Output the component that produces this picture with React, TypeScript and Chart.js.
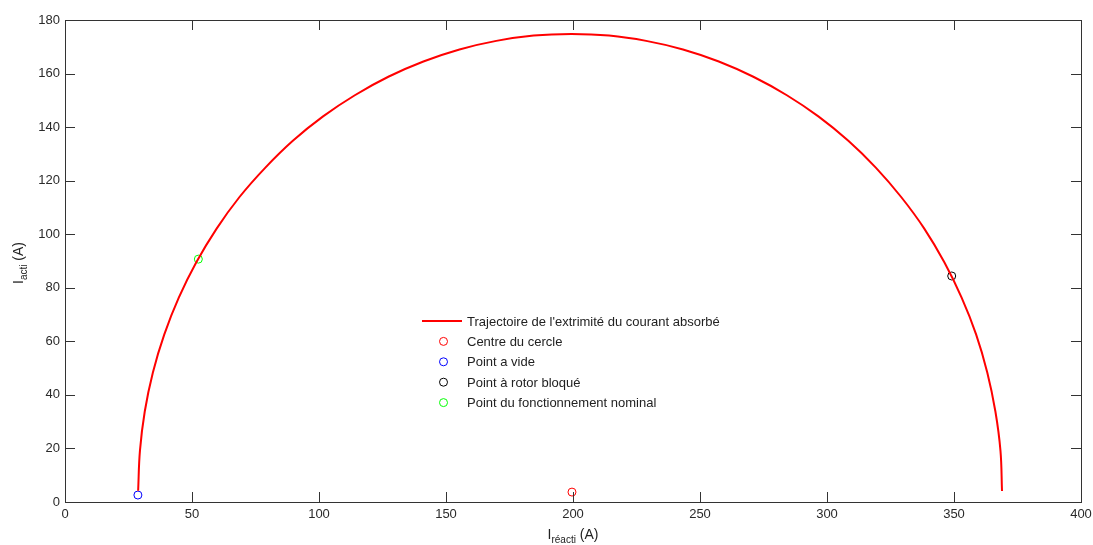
import React, { useEffect, useRef } from "react";
import { Chart, registerables } from "chart.js";

Chart.register(...registerables);

// Curve points (trajectory of the current tip)
const curveX = [28.8, 29.5, 31.4, 34.6, 39.1, 44.8, 51.7, 59.7, 68.7, 78.8, 89.7, 101.6, 114.1, 127.3, 141.1, 155.3, 169.8, 184.5, 199.4, 214.2, 228.8, 243.3, 257.4, 271.0, 284.2, 296.6, 308.4, 319.3, 329.2, 338.3, 346.2, 353.0, 358.7, 363.1, 366.3, 368.3, 368.9];
const curveY = [4.2, 19.1, 33.8, 48.4, 62.6, 76.3, 89.5, 102.1, 113.9, 124.8, 134.9, 144.0, 151.9, 158.8, 164.5, 169.0, 172.2, 174.2, 174.8, 174.2, 172.2, 169.0, 164.5, 158.8, 151.9, 144.0, 134.9, 124.8, 113.9, 102.1, 89.5, 76.3, 62.6, 48.4, 33.8, 19.1, 4.1];

const centre = { x: 199.6, y: 3.7 };
const pointVide = { x: 28.7, y: 2.6 };
const pointRotor = { x: 349.1, y: 84.4 };
const pointNominal = { x: 52.5, y: 90.7 };

const legendLabels = [
  "Trajectoire de l'extrimité du courant absorbé",
  "Centre du cercle",
  "Point a vide",
  "Point à rotor bloqué",
  "Point du fonctionnement nominal",
];
const legendColors = ["#ff0000", "#ff0000", "#0000ff", "#000000", "#00ff00"];

const xTicks = [0, 50, 100, 150, 200, 250, 300, 350, 400];
const yTicks = [0, 20, 40, 60, 80, 100, 120, 140, 160, 180];

const FONT = "'Liberation Sans', Arial, sans-serif";

const decorPlugin = {
  id: "decor",
  afterDraw(chart: any) {
    const ctx = chart.ctx as CanvasRenderingContext2D;
    const { left, right, top, bottom } = chart.chartArea;
    const xs = chart.scales.x;
    const ys = chart.scales.y;
    ctx.save();
    ctx.strokeStyle = "#333333";
    ctx.lineWidth = 1;
    // box
    ctx.strokeRect(Math.round(left) + 0.5, Math.round(top) + 0.5, Math.round(right - left), Math.round(bottom - top));
    // ticks
    ctx.beginPath();
    for (const v of xTicks) {
      const px = Math.round(xs.getPixelForValue(v)) + 0.5;
      ctx.moveTo(px, bottom);
      ctx.lineTo(px, bottom - 10);
      ctx.moveTo(px, top);
      ctx.lineTo(px, top + 10);
    }
    for (const v of yTicks) {
      const py = Math.round(ys.getPixelForValue(v)) + 0.5;
      ctx.moveTo(left, py);
      ctx.lineTo(left + 10, py);
      ctx.moveTo(right, py);
      ctx.lineTo(right - 10, py);
    }
    ctx.stroke();

    // legend
    const lx = 422;
    let ly = 321;
    ctx.textBaseline = "middle";
    ctx.textAlign = "left";
    ctx.font = `13px ${FONT}`;
    legendLabels.forEach((lab, i) => {
      if (i === 0) {
        ctx.strokeStyle = legendColors[i];
        ctx.lineWidth = 2;
        ctx.beginPath();
        ctx.moveTo(lx, ly);
        ctx.lineTo(lx + 40, ly);
        ctx.stroke();
      } else {
        ctx.strokeStyle = legendColors[i];
        ctx.lineWidth = 1;
        ctx.beginPath();
        ctx.arc(443.5, ly, 4, 0, Math.PI * 2);
        ctx.stroke();
      }
      ctx.fillStyle = "#222222";
      ctx.fillText(lab, 467, ly + 1);
      ly += 20.4;
    });

    // axis titles with subscripts
    const drawSub = (main: string, sub: string, tail: string, cx: number, cy: number, rot: number) => {
      ctx.save();
      ctx.translate(cx, cy);
      ctx.rotate(rot);
      ctx.fillStyle = "#222222";
      ctx.textBaseline = "alphabetic";
      ctx.textAlign = "left";
      ctx.font = `14px ${FONT}`;
      const w1 = ctx.measureText(main).width;
      const w3 = ctx.measureText(tail).width;
      ctx.font = `10px ${FONT}`;
      const w2 = ctx.measureText(sub).width;
      const total = w1 + w2 + w3;
      let x = -total / 2;
      ctx.font = `14px ${FONT}`;
      ctx.fillText(main, x, 0);
      x += w1;
      ctx.font = `10px ${FONT}`;
      ctx.fillText(sub, x, 4);
      x += w2;
      ctx.font = `14px ${FONT}`;
      ctx.fillText(tail, x, 0);
      ctx.restore();
    };
    drawSub("I", "réacti", " (A)", (left + right) / 2, 539, 0);
    drawSub("I", "acti", " (A)", 23, (top + bottom) / 2 + 2, -Math.PI / 2);
    ctx.restore();
  },
};

export default function App() {
  const ref = useRef<HTMLCanvasElement | null>(null);
  useEffect(() => {
    if (!ref.current) return;
    const marker = (pt: { x: number; y: number }, color: string) => ({
      data: [pt],
      showLine: false,
      pointStyle: "circle",
      pointRadius: 4,
      pointBorderWidth: 1,
      pointBorderColor: color,
      pointBackgroundColor: "rgba(0,0,0,0)",
    });
    const chart = new Chart(ref.current, {
      type: "scatter",
      data: {
        datasets: [
          {
            data: curveX.map((x, i) => ({ x, y: curveY[i] })),
            showLine: true,
            borderColor: "#ff0000",
            borderWidth: 2,
            pointRadius: 0,
            tension: 0.4,
          } as any,
          marker(centre, "#ff0000"),
          marker(pointVide, "#0000ff"),
          marker(pointRotor, "#000000"),
          marker(pointNominal, "#00ff00"),
        ],
      },
      options: {
        animation: false,
        responsive: false,
        maintainAspectRatio: false,
        layout: { padding: { left: 0, top: 20, right: 12, bottom: 0 } },
        plugins: { legend: { display: false }, tooltip: { enabled: false } },
        events: [],
        scales: {
          x: {
            type: "linear",
            min: 0,
            max: 400,
            grid: { display: false, drawTicks: false },
            border: { display: false },
            ticks: {
              stepSize: 50,
              padding: 5,
              color: "#2a2a2a",
              font: { family: FONT, size: 13 },
              maxRotation: 0,
            },
            afterFit: (s: any) => {
              s.height = 43;
              s.paddingLeft = 0;
              s.paddingRight = 0;
            },
          },
          y: {
            type: "linear",
            min: 0,
            max: 180,
            grid: { display: false, drawTicks: false },
            border: { display: false },
            ticks: {
              stepSize: 20,
              padding: 5,
              color: "#2a2a2a",
              font: { family: FONT, size: 13 },
            },
            afterFit: (s: any) => {
              s.width = 65;
              s.paddingTop = 0;
              s.paddingBottom = 0;
            },
          },
        },
      },
      plugins: [decorPlugin],
    } as any);
    return () => chart.destroy();
  }, []);
  return (
    <div style={{ position: "fixed", left: 0, top: 0, width: 1093, height: 545, background: "#fff" }}>
      <canvas ref={ref} width={1093} height={545} style={{ width: 1093, height: 545 }} />
    </div>
  );
}
